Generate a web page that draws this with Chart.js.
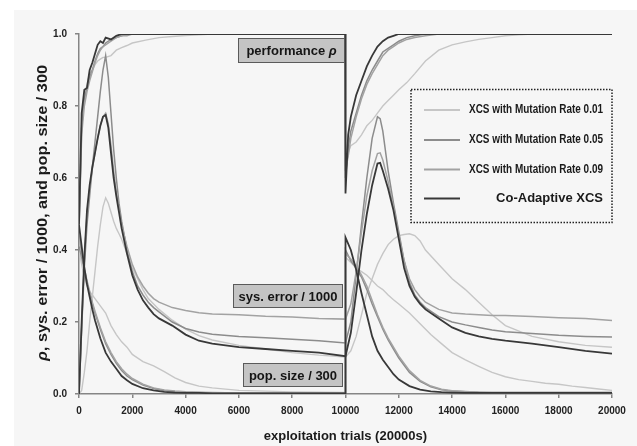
<!DOCTYPE html>
<html lang="en">
<head>
  <meta charset="UTF-8">
  <title>XCS mutation rates vs Co-Adaptive XCS</title>
  <script src="https://cdn.jsdelivr.net/npm/chart.js"></script>
  <style>
    body { margin: 0; padding: 0; background: #ffffff; }
    canvas { display: block; }
  </style>
</head>
<body>
  <canvas id="graph" width="637" height="446"></canvas>

  <script>
    // ---- data ----
    const seriesNames = [
      'XCS with Mutation Rate 0.01',
      'XCS with Mutation Rate 0.05',
      'XCS with Mutation Rate 0.09',
      'Co-Adaptive XCS'
    ];

    const xTicks = [0, 2000, 4000, 6000, 8000, 10000, 12000, 14000, 16000, 18000, 20000];
    const yTicks = [0.0, 0.2, 0.4, 0.6, 0.8, 1.0];

    // performance rho
    const perfX = [0, 100, 200, 300, 400, 500, 600, 700, 800, 900, 1000, 1200, 1400, 1600, 1800, 2000,
      2500, 3000, 3500, 4000, 5000, 6000, 8000, 9990,
      10000, 10100, 10200, 10400, 10600, 10800, 11000, 11200, 11400, 11600, 11800, 12000, 12300, 12600,
      13000, 13500, 14000, 14500, 15000, 15500, 16000, 16500, 17000, 18000, 20000];
    const perfCo = [0.47, 0.78, 0.845, 0.85, 0.9, 0.92, 0.945, 0.97, 0.98, 0.975, 0.99, 0.985, 0.995, 1, 1, 1,
      1, 1, 1, 1, 1, 1, 1, 1,
      0.557, 0.72, 0.77, 0.83, 0.87, 0.91, 0.94, 0.965, 0.98, 0.99, 0.995, 1, 1, 1,
      1, 1, 1, 1, 1, 1, 1, 1, 1, 1, 1];
    const perfM05 = [0.46, 0.74, 0.82, 0.85, 0.88, 0.9, 0.925, 0.945, 0.96, 0.965, 0.975, 0.985, 0.99, 0.995, 1, 1,
      1, 1, 1, 1, 1, 1, 1, 1,
      0.6, 0.68, 0.73, 0.78, 0.83, 0.87, 0.9, 0.925, 0.95, 0.96, 0.97, 0.98, 0.99, 0.995,
      1, 1, 1, 1, 1, 1, 1, 1, 1, 1, 1];
    const perfM09 = [0.45, 0.72, 0.8, 0.84, 0.87, 0.895, 0.92, 0.94, 0.955, 0.965, 0.97, 0.98, 0.99, 0.995, 0.995, 1,
      1, 1, 1, 1, 1, 1, 1, 1,
      0.62, 0.66, 0.71, 0.77, 0.82, 0.86, 0.89, 0.915, 0.94, 0.955, 0.965, 0.975, 0.985, 0.99,
      0.995, 1, 1, 1, 1, 1, 1, 1, 1, 1, 1];
    const perfM01 = [0.47, 0.75, 0.82, 0.86, 0.89, 0.9, 0.915, 0.925, 0.93, 0.935, 0.935, 0.94, 0.955, 0.962, 0.968, 0.975,
      0.983, 0.99, 0.993, 0.996, 1, 1, 1, 1,
      0.62, 0.67, 0.69, 0.7, 0.72, 0.745, 0.76, 0.78, 0.8, 0.815, 0.83, 0.845, 0.865, 0.89,
      0.925, 0.955, 0.97, 0.978, 0.985, 0.99, 0.995, 0.998, 1, 1, 1];

    // system error / 1000
    const errX = [0, 100, 200, 300, 400, 500, 600, 700, 800, 900, 1000, 1100, 1200, 1300, 1400, 1500, 1600,
      1800, 2000, 2200, 2400, 2600, 2800, 3000, 3500, 4000, 4500, 5000, 6000, 7000, 8000, 9000, 10000,
      10200, 10400, 10600, 10800, 11000, 11200, 11300, 11400, 11600, 11800, 12000, 12200, 12400, 12600, 12800, 13000,
      13500, 14000, 14500, 15000, 15500, 16000, 17000, 18000, 19000, 20000];
    const errCo = [0, 0.2, 0.38, 0.51, 0.58, 0.63, 0.67, 0.71, 0.745, 0.77, 0.775, 0.74, 0.67, 0.6, 0.55, 0.505, 0.46,
      0.39, 0.33, 0.29, 0.26, 0.24, 0.222, 0.21, 0.19, 0.165, 0.148, 0.14, 0.13, 0.125, 0.12, 0.115, 0.105,
      0.17, 0.28, 0.4, 0.5, 0.58, 0.64, 0.642, 0.62, 0.57, 0.51, 0.43, 0.35, 0.3, 0.27, 0.25, 0.235,
      0.21, 0.185, 0.17, 0.16, 0.153, 0.148, 0.14, 0.13, 0.12, 0.112];
    const errM05 = [0, 0.18, 0.35, 0.47, 0.55, 0.63, 0.7, 0.77, 0.84, 0.9, 0.94, 0.88, 0.78, 0.68, 0.6, 0.53, 0.48,
      0.4, 0.34, 0.3, 0.275, 0.255, 0.24, 0.228, 0.2, 0.182, 0.172, 0.166, 0.16, 0.156, 0.152, 0.148, 0.142,
      0.2, 0.33, 0.47, 0.6, 0.71, 0.77, 0.765, 0.73, 0.62, 0.53, 0.45, 0.37, 0.31, 0.275, 0.255, 0.24,
      0.215, 0.2, 0.192, 0.185, 0.178, 0.173, 0.168, 0.163, 0.16, 0.158];
    const errM09 = [0, 0.19, 0.37, 0.5, 0.57, 0.625, 0.67, 0.71, 0.745, 0.77, 0.78, 0.75, 0.69, 0.62, 0.56, 0.515, 0.47,
      0.41, 0.36, 0.325, 0.3, 0.28, 0.265, 0.255, 0.24, 0.232, 0.226, 0.222, 0.22, 0.216, 0.214, 0.21, 0.208,
      0.25, 0.34, 0.45, 0.55, 0.62, 0.668, 0.67, 0.65, 0.59, 0.52, 0.44, 0.37, 0.32, 0.29, 0.27, 0.255,
      0.235, 0.225, 0.222, 0.22, 0.218, 0.218, 0.215, 0.212, 0.21, 0.204];
    const errM01 = [0, 0.01, 0.06, 0.12, 0.2, 0.27, 0.34, 0.41, 0.47, 0.52, 0.545, 0.53, 0.505, 0.48, 0.46, 0.445, 0.43,
      0.39, 0.35, 0.32, 0.29, 0.265, 0.25, 0.235, 0.205, 0.18, 0.162, 0.15, 0.135, 0.125, 0.115, 0.108, 0.103,
      0.12, 0.16, 0.22, 0.28, 0.32, 0.36, 0.375, 0.39, 0.415, 0.43, 0.44, 0.443, 0.445, 0.44, 0.425, 0.4,
      0.36, 0.32, 0.29, 0.255, 0.22, 0.19, 0.16, 0.145, 0.135, 0.13];

    // population size / 300
    const popX = [0, 100, 200, 300, 400, 500, 600, 800, 1000, 1200, 1400, 1600, 1800, 2000,
      2400, 2800, 3200, 3600, 4000, 4500, 5000, 6000, 7000, 8000, 9000, 9990,
      10000, 10200, 10400, 10600, 10800, 11000, 11200, 11400, 11600, 11800, 12000,
      12400, 12800, 13200, 13600, 14000, 14500, 15000, 15500, 16000, 16500, 17000, 17500, 18000, 18500, 19000, 19500, 20000];
    const popCo = [0.47, 0.41, 0.35, 0.305, 0.27, 0.235, 0.205, 0.155, 0.115, 0.09, 0.07, 0.05, 0.038, 0.028,
      0.016, 0.01, 0.006, 0.004, 0.003, 0.003, 0.002, 0.002, 0.002, 0.002, 0.002, 0.002,
      0.435, 0.4, 0.345, 0.28, 0.22, 0.16, 0.12, 0.095, 0.075, 0.055, 0.04,
      0.022, 0.012, 0.007, 0.005, 0.004, 0.003, 0.003, 0.003, 0.003, 0.003, 0.003, 0.003, 0.003, 0.003, 0.003, 0.003, 0.003];
    const popM05 = [0.41, 0.38, 0.345, 0.31, 0.28, 0.25, 0.225, 0.18, 0.14, 0.11, 0.085, 0.065, 0.05, 0.04,
      0.025, 0.015, 0.01, 0.007, 0.005, 0.004, 0.003, 0.003, 0.003, 0.003, 0.003, 0.003,
      0.4, 0.37, 0.35, 0.325, 0.29, 0.25, 0.215, 0.18, 0.15, 0.125, 0.1,
      0.06, 0.035, 0.02, 0.012, 0.008, 0.006, 0.005, 0.004, 0.004, 0.004, 0.004, 0.004, 0.004, 0.004, 0.004, 0.004, 0.004];
    const popM09 = [0.44, 0.39, 0.35, 0.315, 0.285, 0.255, 0.23, 0.185, 0.145, 0.115, 0.09, 0.07, 0.055, 0.043,
      0.027, 0.017, 0.011, 0.008, 0.006, 0.005, 0.004, 0.003, 0.003, 0.003, 0.003, 0.003,
      0.39, 0.375, 0.355, 0.33, 0.3, 0.26, 0.22, 0.185, 0.155, 0.13, 0.105,
      0.065, 0.038, 0.022, 0.013, 0.009, 0.007, 0.005, 0.004, 0.004, 0.004, 0.004, 0.004, 0.004, 0.004, 0.004, 0.004, 0.004];
    const popM01 = [0.4, 0.36, 0.325, 0.3, 0.285, 0.275, 0.265, 0.245, 0.225, 0.19, 0.165, 0.145, 0.13, 0.11,
      0.09, 0.078, 0.062, 0.045, 0.032, 0.022, 0.017, 0.01, 0.008, 0.006, 0.005, 0.004,
      0.38, 0.365, 0.35, 0.34, 0.33, 0.315, 0.3, 0.29, 0.275, 0.262, 0.25,
      0.225, 0.195, 0.165, 0.14, 0.115, 0.095, 0.077, 0.06, 0.048, 0.04, 0.035, 0.03, 0.027, 0.022, 0.018, 0.014, 0.01];

    // ---- styles ----
    const lineColors = ['#c6c6c6', '#8c8c8c', '#a2a2a2', '#383838'];
    const lineWidths = [1.4, 1.5, 1.5, 1.8];
    const sansFont = "'Liberation Sans', Arial, sans-serif";

    function pairs(xs, ys) {
      return xs.map((x, i) => ({ x: x, y: ys[i] }));
    }

    const groups = [
      [perfX, [perfM01, perfM05, perfM09, perfCo]],
      [errX, [errM01, errM05, errM09, errCo]],
      [popX, [popM01, popM05, popM09, popCo]]
    ];

    // dataset index 0 is drawn on top, so the dark series go first
    const datasets = [];
    for (let s = 3; s >= 0; s--) {
      for (const [xs, list] of groups) {
        datasets.push({
          label: seriesNames[s],
          data: pairs(xs, list[s]),
          borderColor: lineColors[s],
          borderWidth: lineWidths[s],
          pointRadius: 0,
          tension: 0,
          fill: false
        });
      }
    }

    // draws text pieces in a row, centred on (cx, cy), squeezed to maxW if given
    function drawParts(ctx, parts, cx, cy, targetW) {
      let total = 0;
      for (const p of parts) {
        ctx.font = p.font;
        total += ctx.measureText(p.text).width;
      }
      const k = targetW ? targetW / total : 1;
      ctx.save();
      ctx.translate(cx, cy);
      ctx.scale(k, 1);
      ctx.textAlign = 'left';
      ctx.textBaseline = 'middle';
      let x = -total / 2;
      for (const p of parts) {
        ctx.font = p.font;
        ctx.fillText(p.text, x, 0);
        x += ctx.measureText(p.text).width;
      }
      ctx.restore();
    }

    function drawBox(ctx, x, y, w, h, parts) {
      ctx.save();
      ctx.fillStyle = '#c4c4c4';
      ctx.fillRect(x, y, w, h);
      ctx.strokeStyle = '#5a5a5a';
      ctx.lineWidth = 1;
      ctx.strokeRect(x + 0.5, y + 0.5, w - 1, h - 1);
      ctx.fillStyle = '#151515';
      drawParts(ctx, parts, x + w / 2, y + h / 2 + 1);
      ctx.restore();
    }

    const decor = {
      id: 'decor',
      beforeDraw(chart) {
        const ctx = chart.ctx;
        ctx.save();
        ctx.fillStyle = '#ffffff';
        ctx.fillRect(0, 0, chart.width, chart.height);
        ctx.fillStyle = '#f6f6f6';
        ctx.fillRect(14, 10, chart.width - 14, chart.height - 10);
        ctx.restore();
      },
      afterDatasetsDraw(chart) {
        const ctx = chart.ctx;
        const bold = 'bold 13px ' + sansFont;
        const boldIt = 'italic bold 13px ' + sansFont;
        drawBox(ctx, 238, 38, 107, 25, [{ text: 'performance ', font: bold }, { text: 'ρ', font: boldIt }]);
        drawBox(ctx, 233, 284, 110, 24, [{ text: 'sys. error / 1000', font: bold }]);
        drawBox(ctx, 243, 363, 100, 24, [{ text: 'pop. size / 300', font: bold }]);

        // legend
        ctx.save();
        ctx.fillStyle = '#f6f6f6';
        ctx.fillRect(411, 89, 201, 134);
        ctx.strokeStyle = '#222';
        ctx.lineWidth = 1.5;
        ctx.setLineDash([1.5, 1.5]);
        ctx.strokeRect(411, 89.5, 201, 133);
        ctx.setLineDash([]);
        const rows = [110, 140, 169.5, 198.5];
        for (let i = 0; i < 4; i++) {
          ctx.strokeStyle = lineColors[i];
          ctx.lineWidth = 2.2;
          ctx.beginPath();
          ctx.moveTo(424, rows[i]);
          ctx.lineTo(460, rows[i]);
          ctx.stroke();
          ctx.fillStyle = '#1a1a1a';
          if (i < 3) {
            drawParts(ctx, [{ text: seriesNames[i], font: 'bold 12px ' + sansFont }], 603 - 67, rows[i], 134);
          } else {
            ctx.font = 'bold 13px ' + sansFont;
            ctx.textAlign = 'right';
            ctx.textBaseline = 'middle';
            ctx.fillText(seriesNames[i], 603, rows[i]);
          }
        }
        ctx.restore();
      },
      afterDraw(chart) {
        const ctx = chart.ctx;
        const area = chart.chartArea;
        ctx.save();
        ctx.fillStyle = '#1a1a1a';
        drawParts(ctx, [{ text: 'exploitation trials (20000s)', font: 'bold 13px ' + sansFont }],
          (area.left + area.right) / 2, 436);

        ctx.translate(43, 213);
        ctx.rotate(-Math.PI / 2);
        drawParts(ctx, [
          { text: 'ρ', font: 'italic bold 15px ' + sansFont },
          { text: ', sys. error / 1000, and pop. size / 300', font: 'bold 15px ' + sansFont }
        ], 0, 0, 296);
        ctx.restore();
      }
    };

    const axisColor = '#858585';
    const ctx = document.getElementById('graph').getContext('2d');
    const chart = new Chart(ctx, {
      type: 'line',
      data: { datasets: datasets },
      plugins: [decor],
      options: {
        responsive: false,
        animation: false,
        devicePixelRatio: 1,
        layout: { padding: { left: 0, right: 25, top: 34, bottom: 0 } },
        plugins: {
          legend: { display: false },
          tooltip: { enabled: false }
        },
        scales: {
          x: {
            type: 'linear',
            min: 0,
            max: 20000,
            afterFit: s => { s.height = 52; },
            afterBuildTicks: s => { s.ticks = xTicks.map(v => ({ value: v })); },
            border: { display: true, color: axisColor, width: 1.5 },
            grid: { drawOnChartArea: false, drawTicks: true, tickLength: 4, color: axisColor, lineWidth: 1.5 },
            ticks: {
              padding: 7,
              maxRotation: 0,
              color: '#222',
              font: { family: sansFont, size: 10, weight: 'bold' },
              callback: v => String(v)
            }
          },
          y: {
            min: 0,
            max: 1,
            afterFit: s => { s.width = 79; },
            afterBuildTicks: s => { s.ticks = yTicks.map(v => ({ value: v })); },
            border: { display: true, color: axisColor, width: 1.5 },
            grid: { drawOnChartArea: false, drawTicks: true, tickLength: 4, color: axisColor, lineWidth: 1.5 },
            ticks: {
              padding: 8,
              color: '#222',
              font: { family: sansFont, size: 10, weight: 'bold' },
              callback: v => v.toFixed(1)
            }
          }
        }
      }
    });
  </script>
</body>
</html>
